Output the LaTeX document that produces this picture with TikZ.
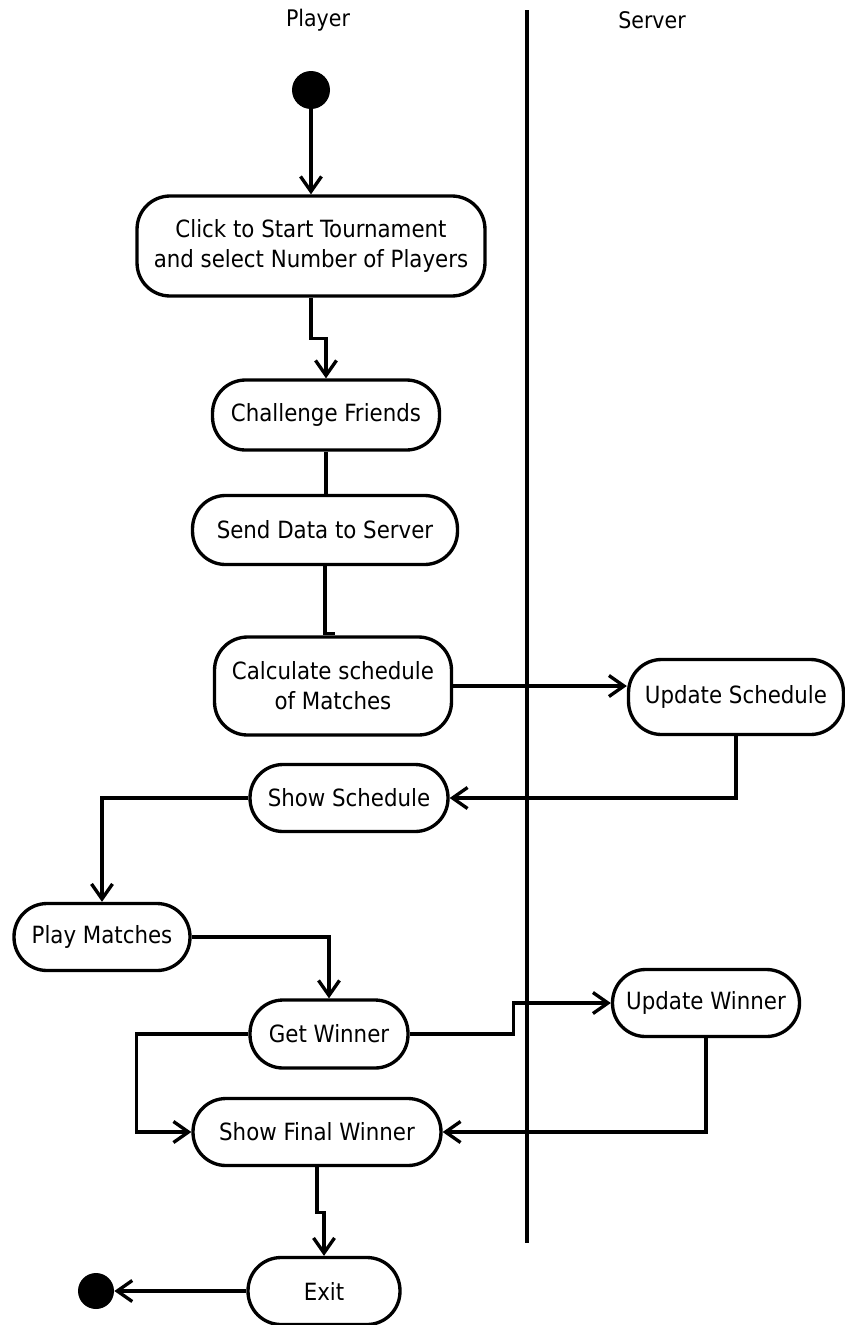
\documentclass[tikz,border=0pt]{standalone}
\usepackage{fontspec}
\setmainfont{DejaVu Sans Condensed}
\usetikzlibrary{arrows.meta}

\tikzset{
  act/.style={draw, line width=1.9pt, rounded corners=0.66cm, align=center,
    font=\fontsize{13.5}{17}\selectfont, inner sep=0pt},
  arr/.style={line width=1.9pt, -{Straight Barb[length=0.3cm, width=0.42cm, line width=1.9pt]}},
  ln/.style={line width=1.9pt},
  dot/.style={circle, fill=black, inner sep=0pt},
  lane/.style={font=\fontsize{13}{15}\selectfont}
}

\begin{document}
\begin{tikzpicture}[x=0.02cm, y=-0.02cm]
  \useasboundingbox (0,0) rectangle (845,1325);

  \node[lane] (p) at (318,20) {Player};
  \node[lane] (sv) at (652,20) {Server};
  \draw[line width=2.4pt] (527,10) -- (527,1243);

  \node[dot, minimum size=0.76cm] (s0) at (311,90) {};
  \node[act, minimum width=6.96cm, minimum height=2cm] (b1) at (311,246) {Click to Start Tournament\\and select Number of Players};
  \node[act, minimum width=4.54cm, minimum height=1.4cm] (ch) at (326,415) {Challenge Friends};
  \node[act, minimum width=5.3cm, minimum height=1.38cm] (sd) at (325,530) {Send Data to Server};
  \node[act, minimum width=4.74cm, minimum height=1.96cm] (cs) at (333,686) {Calculate schedule\\of Matches};
  \node[act, minimum width=4.3cm, minimum height=1.5cm] (us) at (736,697) {Update Schedule};
  \node[act, minimum width=3.96cm, minimum height=1.34cm] (ss) at (349,798) {Show Schedule};
  \node[act, minimum width=3.52cm, minimum height=1.34cm] (pm) at (102,937) {Play Matches};
  \node[act, minimum width=3.16cm, minimum height=1.36cm] (gw) at (329,1034) {Get Winner};
  \node[act, minimum width=3.74cm, minimum height=1.34cm] (uw) at (706,1003) {Update Winner};
  \node[act, minimum width=4.96cm, minimum height=1.34cm] (sf) at (317,1132) {Show Final Winner};
  \node[act, minimum width=3.04cm, minimum height=1.34cm] (ex) at (324,1291) {Exit};
  \node[dot, minimum size=0.72cm] (e1) at (96,1291) {};

  \draw[arr] (s0) -- (b1);
  \draw[arr] (b1.south) -- ++(0,41) -| (ch.north);
  \draw[ln] (ch.south) -- (ch.south |- sd.north);
  \draw[ln] (sd.south) -- ++(0,67) -| (cs.north);
  \draw[arr] (cs.east) -- (cs.east -| us.west);
  \draw[arr] (us.south) |- (ss.east);
  \draw[arr] (ss.west) -| (pm.north);
  \draw[arr] (pm.east) -| (gw.north);
  \draw[arr] (gw.east) -- ++(104,0) |- (uw.west);
  \draw[arr] (gw.west) -- ++(-112,0) |- (sf.west);
  \draw[arr] (uw.south) |- (sf.east);
  \draw[arr] (sf.south) -- ++(0,45) -| (ex.north);
  \draw[arr] (ex.west) -- (e1);
\end{tikzpicture}
\end{document}
